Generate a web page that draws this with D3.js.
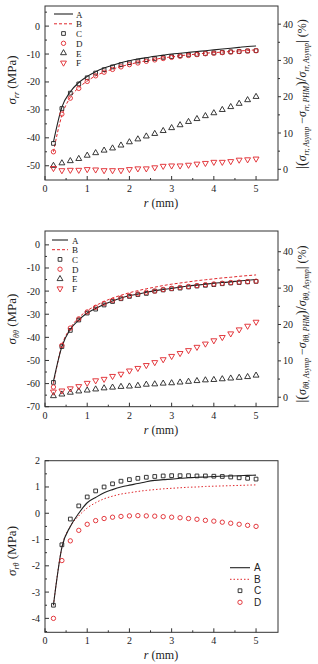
<!DOCTYPE html>
<html>
<head>
<meta charset="utf-8">
<script src="https://cdn.jsdelivr.net/npm/d3@7"></script>
<style>
  body { margin: 0; background: #fff; }
  svg { display: block; }
</style>
</head>
<body>
<div id="graph"></div>
<script>
// radial positions (mm), shared by every series
const r = [0.2, 0.4, 0.6, 0.8, 1.0, 1.2, 1.4, 1.6, 1.8, 2.0, 2.2, 2.4, 2.6,
           2.8, 3.0, 3.2, 3.4, 3.6, 3.8, 4.0, 4.2, 4.4, 4.6, 4.8, 5.0];

// panel 1 : sigma_rr (MPa) and error (%)
const rrA = [-41.5, -29, -23.5, -20.2, -18, -16.3, -15, -14, -13.1, -12.4, -11.8, -11.3, -10.8,
             -10.4, -10, -9.7, -9.4, -9.1, -8.8, -8.5, -8.2, -7.9, -7.6, -7.3, -7.1];
const rrB = [-45, -32, -25.5, -22, -19.7, -17.8, -16.5, -15.4, -14.5, -13.7, -13, -12.4, -11.9,
             -11.4, -11, -10.6, -10.3, -10, -9.7, -9.5, -9.3, -9.1, -8.9, -8.7, -8.5];
const rrC = [-42, -29.5, -24, -20.7, -18.5, -16.8, -15.6, -14.6, -13.8, -13.1, -12.5, -12, -11.6,
             -11.2, -10.9, -10.6, -10.3, -10.1, -9.8, -9.6, -9.4, -9.2, -9.1, -8.9, -8.8];
const rrD = [-45, -31.5, -25.8, -22.3, -19.8, -17.8, -16.5, -15.5, -14.6, -13.8, -13.2, -12.6, -12.1,
             -11.6, -11.2, -10.8, -10.5, -10.2, -9.9, -9.7, -9.5, -9.3, -9.1, -8.9, -8.8];
const rrE = [1.0, 1.7, 2.3, 2.9, 3.8, 4.5, 5.2, 5.8, 6.6, 7.5, 8.3, 9.1, 9.8,
             10.6, 11.4, 12.2, 13.1, 13.9, 14.7, 15.5, 16.4, 17.2, 18.1, 19.1, 20.0];
const rrF = [0.3, -0.3, -0.2, -0.2, 0, -0.1, -0.3, -0.3, -0.3, 0, 0.2, 0.2, 0.5,
             0.9, 1.0, 1.0, 1.2, 1.5, 1.7, 2.0, 2.0, 2.2, 2.6, 2.7, 2.9];

// panel 2 : sigma_tt (MPa) and error (%)
const ttA = [-59, -44, -36.5, -32.5, -29.5, -27.5, -25.7, -24.3, -23, -22, -21.3, -20.5, -19.8,
             -19.3, -18.8, -18.3, -17.8, -17.4, -17, -16.6, -16.3, -16, -15.6, -15.3, -15];
const ttB = [-60, -43.5, -36, -31.5, -28.5, -26.3, -24.5, -23, -21.8, -20.7, -19.8, -19, -18.3,
             -17.6, -17, -16.5, -16, -15.5, -15.1, -14.7, -14.3, -14, -13.6, -13.3, -13];
const ttC = [-59.5, -44, -37, -32.5, -29.5, -27.8, -26, -24.5, -23.3, -22.3, -21.5, -21, -20,
             -19.5, -19, -18.7, -18.2, -17.8, -17.5, -17.2, -16.8, -16.5, -16.3, -16, -15.8];
const ttD = [-61.5, -43.5, -36, -32, -29, -27, -25.3, -24, -23, -22, -21.2, -20.5, -20,
             -19.3, -18.8, -18.4, -18, -17.6, -17.2, -16.9, -16.6, -16.3, -16.1, -15.9, -15.7];
const ttE = [0.35, 0.8, 1.3, 1.65, 1.9, 2.2, 2.5, 2.7, 2.9, 3.0, 3.2, 3.5, 3.6,
             3.8, 3.9, 4.1, 4.3, 4.5, 4.7, 4.8, 5.0, 5.2, 5.4, 5.6, 6.0];
const ttF = [1.5, 1.8, 2.4, 3.0, 3.9, 4.6, 5.0, 5.8, 6.4, 7.3, 8.0, 8.8, 9.6,
             10.4, 11.3, 12.1, 12.9, 13.8, 14.7, 15.6, 16.5, 17.5, 18.6, 19.6, 20.7];

// panel 3 : sigma_rt (MPa)
const rtA = [-3.5, -1.3, -0.5, 0, 0.4, 0.6, 0.78, 0.9, 1.0, 1.07, 1.13, 1.2, 1.25,
             1.28, 1.3, 1.33, 1.35, 1.37, 1.38, 1.4, 1.41, 1.42, 1.43, 1.44, 1.45];
const rtB = [-3.5, -1.3, -0.5, -0.1, 0.2, 0.4, 0.55, 0.65, 0.73, 0.78, 0.83, 0.87, 0.9,
             0.93, 0.95, 0.97, 0.99, 1.0, 1.02, 1.03, 1.04, 1.05, 1.06, 1.07, 1.08];
const rtC = [-3.5, -1.2, -0.22, 0.28, 0.62, 0.85, 1.0, 1.12, 1.22, 1.28, 1.33, 1.37, 1.4,
             1.42, 1.43, 1.43, 1.43, 1.42, 1.42, 1.41, 1.4, 1.38, 1.35, 1.33, 1.3];
const rtD = [-4.0, -1.8, -1.05, -0.65, -0.42, -0.28, -0.2, -0.15, -0.12, -0.1, -0.09, -0.1, -0.11,
             -0.13, -0.15, -0.17, -0.2, -0.23, -0.27, -0.3, -0.34, -0.38, -0.42, -0.46, -0.5];

const xTicks = [0, 1, 2, 3, 4, 5];
const legendNames = ["A", "B", "C", "D", "E", "F"];

const RED = "#e0262b";
const SERIF = "'Liberation Serif', 'Times New Roman', serif";
const W = 318, H = 664;
const left = 45, right = 278;

const svg = d3.select("#graph").append("svg")
  .attr("width", W).attr("height", H)
  .attr("font-family", SERIF)
  .style("font-family", SERIF);

const x = d3.scaleLinear().domain([0, 5.52]).range([left, right]);

// draws one framed panel with inward ticks
function panel(cfg) {
  const g = svg.append("g");
  const y = d3.scaleLinear().domain(cfg.yDomain).range([cfg.bottom, cfg.top]);

  // frame
  g.append("rect")
    .attr("x", left).attr("y", cfg.top)
    .attr("width", right - left).attr("height", cfg.bottom - cfg.top)
    .attr("fill", "none").attr("stroke", "#333").attr("stroke-width", 1);

  // x ticks (inward) + minor
  const xMinor = d3.range(0.5, 5.5, 1);
  g.selectAll(".xt").data(xTicks).join("line")
    .attr("x1", d => x(d)).attr("x2", d => x(d))
    .attr("y1", cfg.bottom).attr("y2", cfg.bottom - 4)
    .attr("stroke", "#333");
  g.selectAll(".xm").data(xMinor).join("line")
    .attr("x1", d => x(d)).attr("x2", d => x(d))
    .attr("y1", cfg.bottom).attr("y2", cfg.bottom - 2)
    .attr("stroke", "#333");
  g.selectAll(".xl").data(xTicks).join("text")
    .attr("x", d => x(d)).attr("y", cfg.bottom + 12)
    .attr("text-anchor", "middle").attr("font-size", 10).attr("fill", "#222")
    .text(d => d);

  // x title
  const xt = g.append("text")
    .attr("x", 161).attr("y", cfg.bottom + 27)
    .attr("text-anchor", "middle").attr("font-size", 12).attr("fill", "#222");
  xt.append("tspan").attr("font-style", "italic").text("r");
  xt.append("tspan").text(" (mm)");

  // left y ticks
  g.selectAll(".yt").data(cfg.yTicks).join("line")
    .attr("x1", left).attr("x2", left + 4)
    .attr("y1", d => y(d)).attr("y2", d => y(d))
    .attr("stroke", "#333");
  g.selectAll(".ym").data(cfg.yMinor).join("line")
    .attr("x1", left).attr("x2", left + 2)
    .attr("y1", d => y(d)).attr("y2", d => y(d))
    .attr("stroke", "#333");
  g.selectAll(".yl").data(cfg.yTicks).join("text")
    .attr("x", left - 5).attr("y", d => y(d) + 3.5)
    .attr("text-anchor", "end").attr("font-size", 10).attr("fill", "#222")
    .text(d => d);

  // left y title
  const yt = g.append("text")
    .attr("transform", `translate(16,${cfg.yTitleY}) rotate(-90)`)
    .attr("text-anchor", "middle").attr("font-size", 13).attr("fill", "#222");
  yt.append("tspan").attr("font-style", "italic").text("σ");
  yt.append("tspan").attr("font-style", "italic").attr("font-size", 8).attr("dy", 3).text(cfg.sub);
  yt.append("tspan").attr("dy", -3).text(" (MPa)");

  let y2 = null;
  if (cfg.y2Domain) {
    y2 = d3.scaleLinear().domain(cfg.y2Domain).range([cfg.bottom, cfg.top]);
    const t2 = [0, 10, 20, 30, 40];
    const m2 = [5, 15, 25, 35];
    g.selectAll(".rt").data(t2).join("line")
      .attr("x1", right).attr("x2", right + 3)
      .attr("y1", d => y2(d)).attr("y2", d => y2(d))
      .attr("stroke", "#333");
    g.selectAll(".rm").data(m2).join("line")
      .attr("x1", right).attr("x2", right + 2)
      .attr("y1", d => y2(d)).attr("y2", d => y2(d))
      .attr("stroke", "#333");
    g.selectAll(".rl").data(t2).join("text")
      .attr("x", right + 5).attr("y", d => y2(d) + 3.5)
      .attr("font-size", 10).attr("fill", "#222")
      .text(d => d);

    // right title |(σ_a − σ_b)/σ_a| (%)
    const rt = g.append("text")
      .attr("transform", `translate(306,${cfg.y2TitleY}) rotate(-90)`)
      .attr("text-anchor", "middle").attr("font-size", 12).attr("fill", "#222");
    const s = cfg.sub;
    rt.append("tspan").attr("font-size", 14).text("|(");
    rt.append("tspan").attr("font-style", "italic").text("σ");
    rt.append("tspan").attr("font-style", "italic").attr("font-size", 7.5).attr("dy", 3).text(s + ", Asymp");
    rt.append("tspan").attr("dy", -3).text(" −");
    rt.append("tspan").attr("font-style", "italic").text("σ");
    rt.append("tspan").attr("font-style", "italic").attr("font-size", 7.5).attr("dy", 3).text(s + ", PHM");
    rt.append("tspan").attr("dy", -3).attr("font-size", 14).text(")/");
    rt.append("tspan").attr("font-style", "italic").text("σ");
    rt.append("tspan").attr("font-style", "italic").attr("font-size", 7.5).attr("dy", 3).text(s + ", Asymp");
    rt.append("tspan").attr("dy", -3).attr("font-size", 14).text("|");
    rt.append("tspan").text(" (%)");
  }

  const line = d3.line().x((d, i) => x(r[i])).y(d => y(d)).curve(d3.curveMonotoneX);

  g.append("path").datum(cfg.B).attr("d", line)
    .attr("fill", "none").attr("stroke", RED).attr("stroke-width", 1)
    .attr("stroke-dasharray", cfg.bDash);
  g.append("path").datum(cfg.A).attr("d", line)
    .attr("fill", "none").attr("stroke", "#222").attr("stroke-width", 1.1);

  drawMarks(g, cfg.C, y, "square", "#222");
  drawMarks(g, cfg.D, y, "circle", RED);
  if (cfg.E) drawMarks(g, cfg.E, y2, "up", "#222");
  if (cfg.F) drawMarks(g, cfg.F, y2, "down", RED);

  return g;
}

function symbolPath(kind) {
  if (kind === "square") return d3.symbol(d3.symbolSquare, 14)();
  if (kind === "circle") return d3.symbol(d3.symbolCircle, 15)();
  return d3.symbol(d3.symbolTriangle, 15)();
}

function drawMarks(g, vals, scale, kind, color) {
  g.append("g").selectAll("path").data(vals).join("path")
    .attr("d", symbolPath(kind))
    .attr("transform", (d, i) => `translate(${x(r[i])},${scale(d)})` + (kind === "down" ? " rotate(180)" : ""))
    .attr("fill", "none").attr("stroke", color).attr("stroke-width", 0.9);
}

function legendMark(g, kind, color, cx, cy) {
  g.append("path").attr("d", symbolPath(kind))
    .attr("transform", `translate(${cx},${cy})` + (kind === "down" ? " rotate(180)" : ""))
    .attr("fill", "none").attr("stroke", color).attr("stroke-width", 0.9);
}

function legend(g, rows, x0, x1, tx, dash, fontFamily, fs) {
  const kinds = [null, null, "square", "circle", "up", "down"];
  const colors = ["#222", RED, "#222", RED, "#222", RED];
  rows.forEach((cy, i) => {
    if (i === 0) {
      g.append("line").attr("x1", x0).attr("x2", x1).attr("y1", cy).attr("y2", cy)
        .attr("stroke", "#222").attr("stroke-width", 1.1);
    } else if (i === 1) {
      g.append("line").attr("x1", x0).attr("x2", x1).attr("y1", cy).attr("y2", cy)
        .attr("stroke", RED).attr("stroke-dasharray", dash);
    } else {
      legendMark(g, kinds[i], colors[i], (x0 + x1) / 2, cy);
    }
    g.append("text").attr("x", tx).attr("y", cy + 3.5)
      .attr("font-size", fs).attr("fill", "#222")
      .style("font-family", fontFamily)
      .text(legendNames[i]);
  });
}

// panel 1
const g1 = panel({
  top: 6, bottom: 180, yDomain: [-55.1, 7.2],
  yTicks: [0, -10, -20, -30, -40, -50], yMinor: [5, -5, -15, -25, -35, -45],
  y2Domain: [-2.95, 45], yTitleY: 80, y2TitleY: 94, sub: "rr",
  A: rrA, B: rrB, C: rrC, D: rrD, E: rrE, F: rrF, bDash: "3,2"
});
legend(g1, [14, 23.8, 33.5, 43.3, 53, 62.8], 54, 73, 76, "3,2", SERIF, 9);

// panel 2
const g2 = panel({
  top: 231, bottom: 406.7, yDomain: [-70, 6],
  yTicks: [0, -10, -20, -30, -40, -50, -60, -70], yMinor: [-5, -15, -25, -35, -45, -55, -65],
  y2Domain: [-2.6, 45.7], yTitleY: 319, y2TitleY: 324, sub: "θθ",
  A: ttA, B: ttB, C: ttC, D: ttD, E: ttE, F: ttF, bDash: "3,2"
});
legend(g2, [240, 249.7, 259.4, 269.2, 278.9, 288.6], 52, 68, 72, "3,2", SERIF, 9);

// panel 3
const g3 = panel({
  top: 460.7, bottom: 632.3, yDomain: [-4.53, 2],
  yTicks: [2, 1, 0, -1, -2, -3, -4], yMinor: [1.5, 0.5, -0.5, -1.5, -2.5, -3.5, -4.5],
  yTitleY: 551, sub: "rθ",
  A: rtA, B: rtB, C: rtC, D: rtD, bDash: "1.5,2"
});
legend(g3, [567.7, 579.3, 590.7, 602.3], 230, 250, 254, "1.5,2", "'Liberation Sans', Arial, sans-serif", 10);
</script>
</body>
</html>
